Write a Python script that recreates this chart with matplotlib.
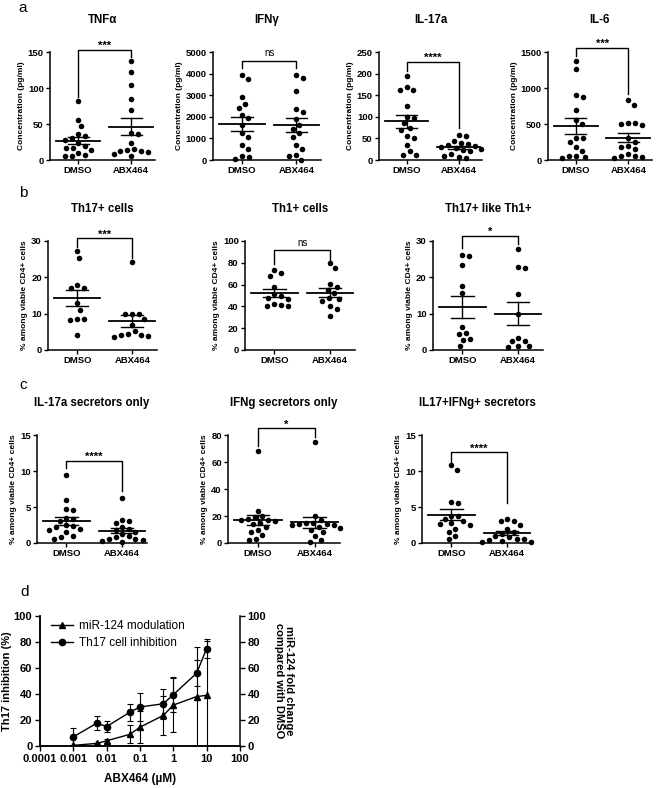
import numpy as np
import matplotlib.pyplot as plt
from matplotlib.lines import Line2D
from matplotlib.ticker import FixedLocator, FixedFormatter, NullLocator

plt.rcParams['font.family'] = ['Liberation Sans', 'DejaVu Sans']
plt.rcParams['axes.linewidth'] = 1.1

W, H = 658, 788
groups = ['DMSO', 'ABX464']

# ---- panel a : cytokines (pg/ml)
tnfa_dmso = [82, 56, 47, 36, 33, 30, 28, 24, 20, 17, 16, 14, 10, 7, 6, 5]
tnfa_abx = [138, 122, 104, 85, 69, 37, 36, 24, 15, 14, 12, 12, 11, 8, 5]
ifng_dmso = [3950, 3750, 2900, 2600, 2400, 2100, 1950, 1600, 1250, 1050, 700, 500, 200, 150, 50]
ifng_abx = [3950, 3800, 3200, 2350, 2200, 1900, 1600, 1450, 1250, 1050, 700, 500, 250, 200, 0]
il17_dmso = [195, 170, 162, 162, 125, 100, 97, 85, 75, 70, 55, 52, 35, 20, 12, 12]
il17_abx = [57, 55, 45, 40, 38, 35, 33, 30, 28, 25, 22, 20, 15, 10, 8, 5]
il6_dmso = [1370, 1270, 900, 870, 700, 560, 500, 310, 300, 250, 180, 130, 60, 50, 40, 30]
il6_abx = [830, 770, 520, 510, 500, 480, 300, 250, 200, 180, 150, 90, 60, 50, 40, 30]

# ---- panel b : % among viable CD4+ cells
th17_dmso = [27.2, 25.3, 17.8, 17.2, 17.0, 12.8, 11.0, 8.5, 8.3, 8.4, 4.2]
th17_abx = [24.3, 10.0, 10.0, 9.8, 8.5, 7.0, 5.2, 4.5, 4.2, 4.0, 3.5, 3.8]
th1_dmso = [73, 71, 68, 58, 51, 50, 48, 47, 40, 40, 41, 42]
th1_abx = [80, 75, 61, 58, 55, 52, 47, 45, 48, 40, 38, 31]
th17th1_dmso = [26.2, 26.0, 23.3, 17.6, 15.6, 6.3, 4.6, 4.4, 3.1, 2.8, 1.0]
th17th1_abx = [27.8, 22.8, 22.6, 15.4, 10.0, 3.2, 2.6, 2.4, 1.0, 1.1, 0.8]

# ---- panel c : secretors
il17sec_dmso = [9.5, 6.0, 4.7, 4.6, 3.5, 3.3, 3.0, 2.5, 2.3, 2.2, 2.0, 1.8, 1.5, 1.0, 0.8, 0.5]
il17sec_abx = [6.2, 3.2, 3.0, 2.8, 2.2, 2.0, 1.8, 1.5, 1.2, 1.0, 0.8, 0.6, 0.5, 0.4, 0.3, 0.2]
ifngsec_dmso = [68.5, 24, 20, 19, 18, 17, 17, 16, 15, 14, 12, 10, 8, 6, 3, 2]
ifngsec_abx = [75, 20, 17, 15, 15, 14, 14, 13, 13, 12, 11, 10, 8, 5, 2, 1]
dblsec_dmso = [10.8, 10.2, 5.7, 5.6, 3.8, 3.7, 3.4, 3.0, 2.8, 2.7, 2.5, 2.0, 1.5, 1.0, 0.5]
dblsec_abx = [3.4, 3.0, 3.0, 2.5, 2.0, 1.5, 1.3, 1.0, 0.8, 0.6, 0.5, 0.4, 0.3, 0.2, 0.1]

# ---- panel d : dose response
dose = [0.001, 0.005, 0.01, 0.05, 0.1, 0.5, 1, 5, 10]
th17_inhib = [7, 17.5, 15, 26, 30, 32.5, 39.5, 56, 75]
th17_inhib_err = [7, 5.5, 4.5, 6.5, 10.5, 11.5, 13.5, 10, 7.5]
mir124 = [0.5, 2, 4, 9, 14.5, 23.5, 31.5, 38, 39]
mir124_err = [0.5, 0.5, 1.5, 7, 12.5, 15, 20.5, 38.5, 42]
dose_ticks = [0.0001, 0.001, 0.01, 0.1, 1, 10, 100]
dose_labels = ['0.0001', '0.001', '0.01', '0.1', '1', '10', '100']

fig = plt.figure(figsize=(W / 100, H / 100), dpi=100)


def swarm(vals, px_per_y, px_per_x, d=7.0):
    # simple beeswarm: put each dot as close to the centre as it can go
    vals = np.asarray(vals, float)
    placed = []
    offs = np.zeros(len(vals))
    cand = np.arange(0, 60, 0.5)
    cand = np.concatenate([[0], np.ravel(np.column_stack([cand[1:], -cand[1:]]))])
    for i in np.argsort(-vals):
        y = vals[i] * px_per_y
        for c in cand:
            if all((c - px) ** 2 + (y - py) ** 2 >= d * d for px, py in placed):
                break
        placed.append((c, y))
        offs[i] = c / px_per_x
    return offs


def dot_panel(left, width, top, bottom, title, dmso, abx, ymax, yticks,
              ylabel, bracket, stars, xlim=(0.47, 2.45)):
    ax = fig.add_axes([left / W, 1 - bottom / H, width / W, (bottom - top) / H])
    ax.set_xlim(*xlim)
    ax.set_ylim(0, ymax)
    px_y = (bottom - top) / ymax
    px_x = width / (xlim[1] - xlim[0])
    for xc, vals in zip([1, 2], [dmso, abx]):
        offs = swarm(vals, px_y, px_x)
        ax.scatter(xc + offs, vals, s=16, color='black', zorder=3, clip_on=False,
                   linewidths=0)
        m = np.mean(vals)
        sem = np.std(vals, ddof=1) / np.sqrt(len(vals))
        ax.plot([xc - 0.42, xc + 0.42], [m, m], color='black', lw=1.3, zorder=4)
        ax.plot([xc, xc], [m - sem, m + sem], color='black', lw=1.0, zorder=4)
        for yy in (m - sem, m + sem):
            ax.plot([xc - 0.2, xc + 0.2], [yy, yy], color='black', lw=1.0, zorder=4)
    ybar, yl, yr = bracket
    ax.plot([1, 1, 2, 2], [yl, ybar, ybar, yr], color='black', lw=1.0, clip_on=False)
    ax.annotate(stars, (1.5, ybar), xytext=(0, 3 if stars == 'ns' else 0.5),
                textcoords='offset points', ha='center', va='baseline',
                fontsize=7 if stars == 'ns' else 8,
                fontweight='normal' if stars == 'ns' else 'bold',
                annotation_clip=False)
    for s in ('top', 'right'):
        ax.spines[s].set_visible(False)
    ax.set_xticks([1, 2])
    ax.set_xticklabels(groups, fontsize=6.8, fontweight='bold')
    ax.set_yticks(yticks)
    ax.set_yticklabels([str(t) for t in yticks], fontsize=6.8, fontweight='bold')
    ax.tick_params(length=3, width=1.0, pad=1.5)
    ax.set_ylabel(ylabel, fontsize=6, fontweight='bold', labelpad=2)
    fig.text((left + width / 2) / W, 1 - (top - 32) / H, title, ha='center',
             va='center', fontsize=8.3, fontweight='bold')
    return ax


conc = 'Concentration (pg/ml)'
cd4 = '% among viable CD4+ cells'

# row a
dot_panel(50, 105, 52, 160, 'TNFα', tnfa_dmso, tnfa_abx, 150, [0, 50, 100, 150],
          conc, (153, 87, 143), '***')
dot_panel(213, 108, 52, 160, 'IFNγ', ifng_dmso, ifng_abx, 5000,
          [0, 1000, 2000, 3000, 4000, 5000], conc, (4600, 4250, 4250), 'ns')
dot_panel(379, 103, 52, 160, 'IL-17a', il17_dmso, il17_abx, 250,
          [0, 50, 100, 150, 200, 250], conc, (227, 206, 73), '****')
dot_panel(548, 104, 52, 160, 'IL-6', il6_dmso, il6_abx, 1500, [0, 500, 1000, 1500],
          conc, (1560, 1450, 920), '***')

# row b
dot_panel(48, 109, 241, 350, 'Th17+ cells', th17_dmso, th17_abx, 30, [0, 10, 20, 30],
          cd4, (30.7, 28.4, 25.4), '***')
dot_panel(245, 110, 241, 350, 'Th1+ cells', th1_dmso, th1_abx, 100,
          [0, 20, 40, 60, 80, 100], cd4, (92, 78.5, 83), 'ns')
dot_panel(433, 110, 241, 350, 'Th17+ like Th1+', th17th1_dmso, th17th1_abx, 30,
          [0, 10, 20, 30], cd4, (31.5, 28, 29.3), '*')

# row c
dot_panel(37, 110, 435, 543, 'IL-17a secretors only', il17sec_dmso, il17sec_abx, 15,
          [0, 5, 10, 15], cd4, (11.4, 10.4, 7.2), '****')
dot_panel(228, 112, 435, 543, 'IFNg secretors only', ifngsec_dmso, ifngsec_abx, 80,
          [0, 20, 40, 60, 80], cd4, (85, 71.5, 78.8), '*')
dot_panel(422, 110, 435, 543, 'IL17+IFNg+ secretors', dblsec_dmso, dblsec_abx, 15,
          [0, 5, 10, 15], cd4, (12.6, 11.3, 5.5), '****')

# row d
axd = fig.add_axes([40 / W, 1 - 746 / H, 200 / W, 130 / H])
axr = axd.twinx()
axd.set_xscale('log')
axd.set_xlim(1e-4, 100)
for a in (axd, axr):
    a.set_ylim(0, 100)
    a.spines['top'].set_visible(False)
axd.spines['right'].set_visible(False)
axd.errorbar(dose, th17_inhib, yerr=th17_inhib_err, color='black', marker='o',
             ms=4.5, lw=1.0, elinewidth=0.8, capsize=2.5, capthick=0.8, zorder=3)
axr.errorbar(dose, mir124, yerr=mir124_err, color='black', marker='^',
             ms=4.5, lw=1.0, elinewidth=0.8, capsize=2.5, capthick=0.8, zorder=3)
axd.xaxis.set_major_locator(FixedLocator(dose_ticks))
axd.xaxis.set_major_formatter(FixedFormatter(dose_labels))
axd.xaxis.set_minor_locator(NullLocator())
yt = [0, 20, 40, 60, 80, 100]
for a in (axd, axr):
    a.set_yticks(yt)
    a.set_yticklabels([str(t) for t in yt], fontsize=8, fontweight='bold')
    a.tick_params(length=3.5, width=1.0, pad=2)
for lab in axd.get_xticklabels():
    lab.set_fontsize(8)
    lab.set_fontweight('bold')
axd.set_ylabel('Th17 inhibition (%)', fontsize=8, fontweight='bold', labelpad=1)
axr.set_ylabel('miR-124 fold change\ncompared with DMSO', fontsize=8,
               fontweight='bold', rotation=270, labelpad=20, linespacing=1.0)
axd.set_xlabel('ABX464 (µM)', fontsize=8.5, fontweight='bold', labelpad=7)
handles = [Line2D([], [], color='black', marker='^', ms=4.5, lw=1.0),
           Line2D([], [], color='black', marker='o', ms=4.5, lw=1.0)]
axd.legend(handles, ['miR-124 modulation', 'Th17 cell inhibition'], loc='upper left',
           bbox_to_anchor=(0.0, 1.05), frameon=False, fontsize=8.5,
           handlelength=1.9, handletextpad=0.5, labelspacing=0.4)

# panel letters
for letter, (x, y) in zip('abcd', [(23, 8), (23, 193), (23, 385), (25, 592)]):
    fig.text(x / W, 1 - y / H, letter, ha='center', va='center', fontsize=11,
             fontweight='light')

fig.savefig('out.png', dpi=100)
